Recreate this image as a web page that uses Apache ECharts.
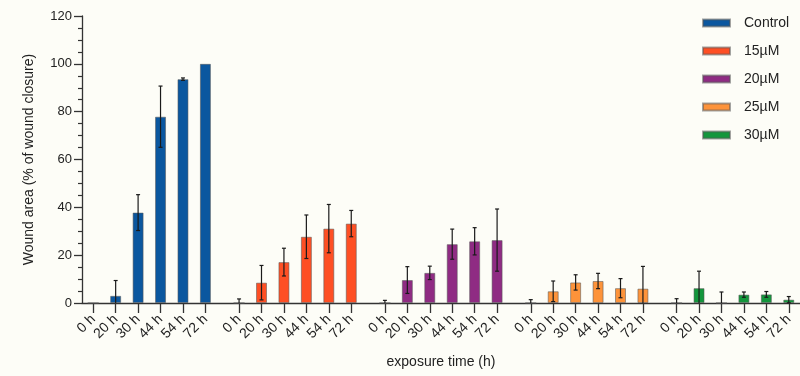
<!DOCTYPE html>
<html>
<head>
<meta charset="utf-8">
<script src="https://cdn.jsdelivr.net/npm/echarts@6/dist/echarts.min.js"></script>
<style>
  html, body { margin: 0; padding: 0; background: #fdfdf7; }
  #chart { width: 800px; height: 376px; }
</style>
</head>
<body>
<div id="chart"></div>
<script>
// Exposure times (tick labels) and treatment groups
const times = ['0 h', '20 h', '30 h', '44 h', '54 h', '72 h'];
const groups = ['Control', '15µM', '20µM', '25µM', '30µM'];
const colors = ['#0b579f', '#fe4f24', '#8f2b83', '#fd933a', '#13963c'];

// Wound closure (%) means and standard deviations per group
const controlMean = [0, 3.0, 37.8, 77.9, 93.6, 100];
const controlSd   = [0, 6.4, 7.5, 12.8, 0.5, 0];
const m15Mean = [0, 8.5, 17.1, 27.7, 31.1, 33.2];
const m15Sd   = [1.7, 7.2, 5.8, 9.1, 10.1, 5.5];
const m20Mean = [0, 9.6, 12.6, 24.6, 25.8, 26.3];
const m20Sd   = [1.1, 5.6, 2.8, 6.3, 5.7, 13.0];
const m25Mean = [0, 4.9, 8.6, 9.2, 6.2, 6.0];
const m25Sd   = [1.4, 4.3, 3.2, 3.2, 4.0, 9.3];
const m30Mean = [0, 6.2, 0, 3.5, 3.6, 1.4];
const m30Sd   = [1.8, 7.1, 4.6, 1.1, 1.2, 1.3];

const means = [controlMean, m15Mean, m20Mean, m25Mean, m30Mean];
const sds = [controlSd, m15Sd, m20Sd, m25Sd, m30Sd];

// Category axis laid out in half-width slots so groups are separated
// by a small gap: one leading blank, two slots per time point,
// one extra blank between groups and one trailing blank.
const GROUP_SLOTS = times.length * 2 + 1;
const slotOf = (g, t) => 1 + g * GROUP_SLOTS + 2 * t;
const slotCount = slotOf(groups.length - 1, times.length - 1) + 2;

const categories = [];
for (let i = 0; i < slotCount; i++) categories.push('gap' + i);
const labelledSlots = [];
groups.forEach((name, g) => {
  times.forEach((tl, t) => {
    categories[slotOf(g, t)] = name + '|' + tl;
    labelledSlots.push(slotOf(g, t));
  });
});

const barSeries = groups.map((name, g) => {
  const data = new Array(slotCount).fill('-');
  means[g].forEach((v, t) => { data[slotOf(g, t)] = v; });
  return {
    name: name,
    type: 'bar',
    stack: 'all',
    barWidth: 11,
    data: data,
    itemStyle: { color: colors[g], borderColor: 'rgba(90,90,90,0.55)', borderWidth: 1 },
    emphasis: { disabled: true }
  };
});

const errData = [];
groups.forEach((name, g) => {
  means[g].forEach((v, t) => { errData.push([slotOf(g, t), v, sds[g][t]]); });
});

const errorSeries = {
  type: 'custom',
  name: 'error',
  z: 5,
  silent: true,
  encode: { x: 0, y: 1 },
  data: errData,
  renderItem: function (params, api) {
    const x = api.value(0), m = api.value(1), s = api.value(2);
    if (!(s > 0)) return null;
    const lowVal = m - s;
    const hi = api.coord([x, m + s]);
    const lo = api.coord([x, Math.max(0, lowVal)]);
    const cap = 2;
    const style = { stroke: '#1a1a1a', lineWidth: 1.2 };
    const children = [
      { type: 'line', shape: { x1: hi[0], y1: hi[1], x2: lo[0], y2: lo[1] }, style: style },
      { type: 'line', shape: { x1: hi[0] - cap, y1: hi[1], x2: hi[0] + cap, y2: hi[1] }, style: style }
    ];
    if (lowVal > 0) {
      children.push({ type: 'line', shape: { x1: lo[0] - cap, y1: lo[1], x2: lo[0] + cap, y2: lo[1] }, style: style });
    }
    return { type: 'group', children: children };
  }
};

const chart = echarts.init(document.getElementById('chart'), null, { renderer: 'canvas' });
const font = 'Liberation Sans, Arial, Helvetica, sans-serif';
chart.setOption({
  backgroundColor: '#fdfdf7',
  animation: false,
  textStyle: { fontFamily: font },
  grid: { left: 82, right: 0, top: 16, bottom: 73 },
  legend: {
    orient: 'vertical',
    left: 702,
    top: 15,
    padding: 0,
    icon: 'rect',
    itemWidth: 27,
    itemHeight: 7,
    itemGap: 12,
    data: groups,
    textStyle: { fontFamily: font, fontSize: 14, color: '#222', lineHeight: 16, padding: [0, 0, 0, 9] }
  },
  xAxis: {
    type: 'category',
    data: categories,
    boundaryGap: false,
    name: 'exposure time (h)',
    nameLocation: 'middle',
    nameGap: 52,
    nameTextStyle: { fontFamily: font, fontSize: 14, color: '#222' },
    axisLine: { lineStyle: { color: '#333', width: 1.3 } },
    axisTick: { show: true, length: 10, customValues: labelledSlots, lineStyle: { color: '#333', width: 1.3 } },
    axisLabel: {
      customValues: labelledSlots,
      rotate: 45,
      margin: 14,
      fontSize: 14,
      color: '#222',
      fontFamily: font,
      formatter: v => (String(v).split('|')[1] || '')
    },
    splitLine: { show: false }
  },
  yAxis: {
    type: 'value',
    min: 0,
    max: 120,
    interval: 20,
    name: 'Wound area (% of wound closure)',
    nameLocation: 'middle',
    nameGap: 46,
    nameTextStyle: { fontFamily: font, fontSize: 14, color: '#222' },
    axisLine: { show: true, lineStyle: { color: '#333', width: 1.3 } },
    axisTick: { show: true, length: 8, lineStyle: { color: '#333', width: 1.3 } },
    minorTick: { show: true, splitNumber: 4, length: 4, lineStyle: { color: '#333', width: 1.2 } },
    axisLabel: { fontSize: 13, color: '#222', margin: 10, fontFamily: font },
    splitLine: { show: false }
  },
  series: barSeries.concat([errorSeries])
});
</script>
</body>
</html>
